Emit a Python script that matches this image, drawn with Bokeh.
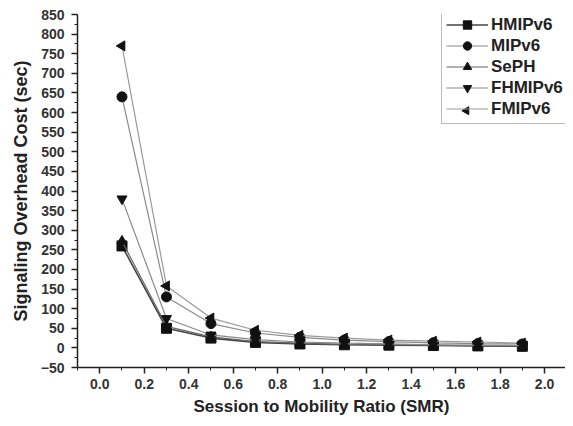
import math
from bokeh.plotting import figure
from bokeh.models import Legend, LegendItem, Range1d, FixedTicker
from bokeh.embed import file_html
from bokeh.resources import INLINE

smr = [0.1, 0.3, 0.5, 0.7, 0.9, 1.1, 1.3, 1.5, 1.7, 1.9]
hmipv6 = [260, 50, 25, 14, 10, 8, 7, 6, 5, 4]
mipv6 = [640, 130, 62, 38, 27, 20, 16, 13, 11, 10]
seph = [272, 55, 28, 16, 12, 9, 8, 7, 6, 5]
fhmipv6 = [380, 75, 33, 21, 15, 12, 10, 8, 7, 6]
fmipv6 = [770, 158, 76, 45, 32, 25, 20, 17, 15, 12]

x_ticks = [0.0, 0.2, 0.4, 0.6, 0.8, 1.0, 1.2, 1.4, 1.6, 1.8, 2.0]
y_ticks = list(range(-50, 851, 50))

FONT = "Liberation Sans"
W, H = 565, 418
BL, BT, BB = 77, 14, 50
X0, X1, Y0, Y1 = -0.1, 2.094, -50, 850

p = figure(width=W, height=H, output_backend="svg", toolbar_location=None,
           x_range=Range1d(X0, X1), y_range=Range1d(Y0, Y1),
           min_border_left=BL, min_border_right=0, min_border_top=BT, min_border_bottom=BB)
p.outline_line_color = None
p.xgrid.visible = False
p.ygrid.visible = False
p.background_fill_color = "white"

p.xaxis.ticker = FixedTicker(ticks=x_ticks, minor_ticks=[round(-0.1 + 0.2 * i, 2) for i in range(12)])
p.yaxis.ticker = FixedTicker(ticks=y_ticks, minor_ticks=[-25 + 50 * i for i in range(18)])
p.xaxis.major_label_overrides = {t: f"{t:.1f}" for t in x_ticks}

for ax in (p.xaxis, p.yaxis):
    ax.axis_line_color = "#222222"
    ax.axis_line_width = 1.5
    ax.major_tick_line_color = "#222222"
    ax.minor_tick_line_color = "#222222"
    ax.major_tick_line_width = 1.5
    ax.major_tick_out = 6
    ax.major_tick_in = 0
    ax.minor_tick_out = 3
    ax.minor_tick_in = 0
    ax.major_label_text_font = FONT
    ax.major_label_text_font_size = "14px"
    ax.major_label_text_font_style = "bold"
    ax.major_label_text_color = "#333333"
    ax.axis_label_text_font = FONT
    ax.axis_label_text_font_style = "bold"
    ax.axis_label_text_color = "#222222"

p.xaxis.axis_label_text_font_size = "17px"
p.yaxis.axis_label_text_font_size = "18px"
p.xaxis.axis_label = "Session to Mobility Ratio (SMR)"
p.yaxis.axis_label = "Signaling Overhead Cost (sec)"
p.xaxis.major_label_standoff = 5
p.xaxis.axis_label_standoff = 5
p.yaxis.major_label_standoff = 7
p.yaxis.axis_label_standoff = 7

series = [
    ("HMIPv6", hmipv6, "square", 0, "#444444", 1.6),
    ("MIPv6", mipv6, "circle", 0, "#8a8a8a", 1.2),
    ("SePH", seph, "triangle", 0, "#666666", 1.2),
    ("FHMIPv6", fhmipv6, "inverted_triangle", 0, "#8a8a8a", 1.2),
    ("FMIPv6", fmipv6, "triangle", math.pi / 2, "#9a9a9a", 1.2),
]

# legend layout (canvas px)
LEG_LEFT, LEG_BOTTOM = 441, 125
PAD, GW, GH, SP, STAND = 4, 42, 21, 0, 3

items = []
for name, ys, marker, ang, lc, lw in series:
    ln = p.line(smr, ys, line_color=lc, line_width=lw)
    sc = p.scatter(smr, ys, marker=marker, angle=ang, size=10, fill_color="#111111",
                   line_color="#111111")
    if ang:
        # legend markers are never rotated by Bokeh: draw a rotated marker
        # at the centre of this entry's legend glyph (converted from px)
        cx = LEG_LEFT + PAD + GW / 2
        cy = LEG_BOTTOM - PAD - GH / 2
        fw, fh = W - BL, H - BT - BB
        lx = X0 + (cx - BL) / fw * (X1 - X0)
        ly = Y1 - (cy - BT) / fh * (Y1 - Y0)
        p.scatter([lx], [ly], marker=marker, angle=ang, size=8, fill_color="#111111",
                  line_color="#111111")
        rs = [ln]
    else:
        rs = [ln, sc]
    items.append(LegendItem(label=name, renderers=rs))

frame_bottom = H - BB
legend = Legend(items=items, location=(LEG_LEFT - BL, frame_bottom - LEG_BOTTOM))
legend.label_text_font = FONT
legend.label_text_font_size = "17px"
legend.label_text_font_style = "bold"
legend.label_text_color = "#222222"
legend.glyph_width = GW
legend.glyph_height = GH
legend.label_height = GH
legend.spacing = SP
legend.padding = PAD
legend.margin = 0
legend.label_standoff = STAND
legend.border_line_color = "#777777"
legend.border_line_width = 1.5
legend.background_fill_alpha = 0.0
p.add_layout(legend)

open("out.html", "w").write(file_html(p, INLINE))
